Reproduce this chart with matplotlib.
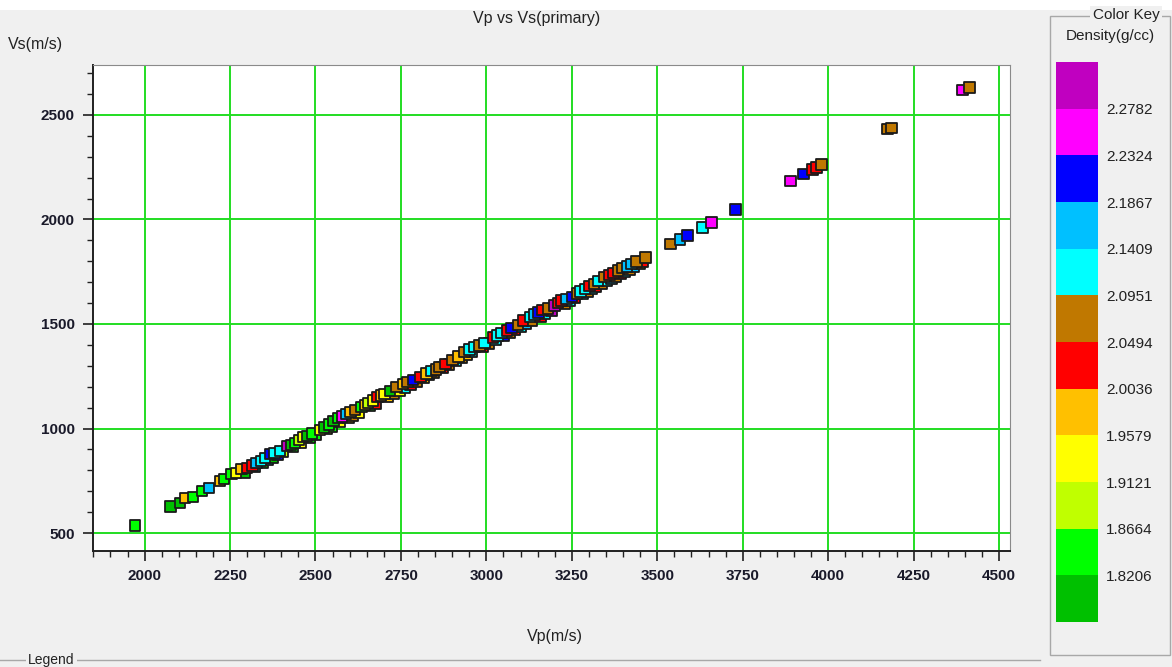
import numpy as np
import matplotlib
matplotlib.use("Agg")
import matplotlib.pyplot as plt
from matplotlib.colors import ListedColormap, BoundaryNorm
from matplotlib.patches import Rectangle
from matplotlib.lines import Line2D
from matplotlib.ticker import MultipleLocator

plt.rcParams['font.family'] = ['Liberation Sans', 'DejaVu Sans']

# density class colours, lowest class first
key_colors = ['#00C000', '#00FF00', '#C0FF00', '#FFFF00', '#FFC000', '#FF0000',
              '#C07800', '#00FFFF', '#00C0FF', '#0000FF', '#FF00FF', '#C000C0']
key_labels = ['1.8206', '1.8664', '1.9121', '1.9579', '2.0036', '2.0494',
              '2.0951', '2.1409', '2.1867', '2.2324', '2.2782']
key_bounds = [1.7748, 1.8206, 1.8664, 1.9121, 1.9579, 2.0036, 2.0494,
              2.0951, 2.1409, 2.1867, 2.2324, 2.2782, 2.3240]

# samples mostly hidden under the others in the dense band
vp_under = [2292, 2322, 2346, 2360, 2374, 2388, 2405, 2434, 2458, 2482,
            2502, 2532, 2546, 2572, 2596, 2608, 2625, 2660, 2676, 2710,
            2728, 2746, 2762, 2778, 2796, 2816, 2832, 2846, 2872, 2890,
            2910, 2928, 2943, 2958, 2988, 3008, 3026, 3052, 3067, 3084,
            3100, 3116, 3134, 3158, 3172, 3190, 3228, 3243, 3258, 3282,
            3295, 3309, 3320, 3336, 3353, 3366, 3379, 3392, 3405, 3418,
            3432, 3450, 3458]
vs_under = [790, 816, 837, 849, 861, 873, 887, 913, 933, 954,
            971, 997, 1009, 1032, 1052, 1063, 1077, 1108, 1121, 1151,
            1166, 1182, 1196, 1209, 1225, 1242, 1256, 1268, 1291, 1306,
            1323, 1339, 1352, 1365, 1391, 1408, 1423, 1446, 1459, 1473,
            1487, 1501, 1517, 1537, 1549, 1565, 1598, 1611, 1624, 1644,
            1656, 1668, 1677, 1691, 1706, 1717, 1728, 1740, 1751, 1762,
            1774, 1789, 1796]
density_under = [1.800, 2.120, 1.845, 2.165, 1.800, 2.210, 1.890, 1.845, 1.935, 1.800,
                 1.845, 1.980, 1.845, 1.935, 1.980, 2.070, 1.935, 1.845, 2.025, 1.980,
                 2.070, 1.935, 2.120, 2.025, 2.070, 1.980, 2.120, 2.070, 2.025, 2.070,
                 2.120, 2.070, 1.980, 2.120, 2.025, 2.070, 2.120, 2.210, 2.070, 2.025,
                 2.120, 2.165, 2.070, 2.025, 2.120, 2.300, 2.070, 2.120, 2.025, 2.165,
                 2.070, 2.120, 2.025, 2.070, 2.120, 2.165, 2.070, 2.025, 2.120, 2.070,
                 2.165, 2.070, 2.025]

# samples
vp = [1972, 2076, 2103, 2118, 2141, 2168, 2188, 2220, 2232, 2255,
      2267, 2284, 2299, 2315, 2328, 2340, 2352, 2367, 2380, 2396,
      2416, 2428, 2440, 2452, 2463, 2475, 2490, 2513, 2525, 2539,
      2552, 2566, 2578, 2589, 2602, 2615, 2635, 2645, 2653, 2668,
      2682, 2692, 2702, 2718, 2737, 2756, 2770, 2785, 2808, 2825,
      2840, 2852, 2863, 2880, 2901, 2918, 2936, 2950, 2966, 2980,
      2995, 3019, 3032, 3045, 3060, 3074, 3092, 3107, 3127, 3140,
      3152, 3165, 3180, 3200, 3210, 3220, 3235, 3250, 3265, 3275,
      3288, 3302, 3315, 3326, 3346, 3360, 3372, 3385, 3398, 3412,
      3425, 3440, 3466, 3539, 3566, 3589, 3633, 3659, 3729, 3890,
      3928, 3954, 3966, 3981, 4174, 4186, 4393, 4414]
vs = [535, 626, 643, 667, 672, 701, 715, 749, 758, 782,
      787, 806, 811, 822, 835, 845, 859, 878, 883, 893,
      917, 922, 931, 945, 959, 965, 975, 993, 1005, 1020,
      1035, 1050, 1058, 1069, 1078, 1088, 1103, 1112, 1122, 1135,
      1151, 1158, 1165, 1180, 1199, 1213, 1222, 1232, 1246, 1262,
      1275, 1283, 1294, 1308, 1328, 1345, 1366, 1378, 1390, 1398,
      1409, 1436, 1445, 1457, 1468, 1481, 1495, 1517, 1533, 1545,
      1555, 1567, 1575, 1588, 1600, 1613, 1620, 1629, 1645, 1655,
      1667, 1682, 1692, 1706, 1725, 1735, 1744, 1755, 1768, 1776,
      1787, 1798, 1818, 1883, 1905, 1922, 1962, 1986, 2048, 2184,
      2218, 2240, 2250, 2262, 2432, 2437, 2620, 2632]
density = [1.845, 1.800, 1.800, 1.980, 1.845, 1.845, 2.165, 1.980, 1.845, 1.845,
           1.935, 1.980, 2.025, 2.025, 2.165, 2.120, 2.120, 2.210, 2.120, 2.120,
           2.300, 1.800, 1.845, 1.890, 1.935, 1.800, 1.845, 1.935, 1.800, 1.845,
           1.800, 1.845, 2.255, 2.165, 1.980, 2.070, 1.845, 1.980, 1.890, 1.935,
           2.025, 1.980, 1.935, 1.800, 2.070, 1.980, 2.070, 2.210, 2.025, 1.980,
           2.120, 2.070, 2.070, 2.025, 2.070, 1.980, 2.070, 2.120, 2.120, 2.070,
           2.120, 2.025, 2.120, 2.120, 2.025, 2.210, 2.070, 2.025, 2.120, 2.165,
           2.210, 2.025, 2.070, 2.300, 2.025, 2.025, 2.165, 2.210, 2.070, 2.120,
           2.120, 2.025, 2.070, 2.120, 2.070, 2.025, 2.025, 2.070, 2.070, 2.165,
           2.165, 2.070, 2.070, 2.070, 2.165, 2.210, 2.120, 2.255, 2.210, 2.255,
           2.210, 2.025, 2.025, 2.070, 2.070, 2.070, 2.255, 2.070]

W, H = 1172, 667
fig = plt.figure(figsize=(W / 100, H / 100), dpi=100, facecolor='#F0F0F0')

def fx(px):
    return px / W

def fy(py):
    return 1 - py / H

# white strip on top of the window grab
fig.patches.append(Rectangle((0, fy(10)), 1, 10 / H, transform=fig.transFigure,
                             facecolor='white', edgecolor='none', zorder=0))

ax = fig.add_axes([fx(93), fy(551), fx(1010 - 93), (551 - 65) / H])
ax.set_facecolor('white')

cmap = ListedColormap(key_colors)
norm = BoundaryNorm(key_bounds, cmap.N)
ax.scatter(vp_under, vs_under, c=density_under, cmap=cmap, norm=norm, marker='s',
           s=58, edgecolors='#1A1A1A', linewidths=1.3, zorder=3)
ax.scatter(vp, vs, c=density, cmap=cmap, norm=norm, marker='s', s=58,
           edgecolors='#1A1A1A', linewidths=1.3, zorder=4)

ax.set_xlim(1849, 4532)
ax.set_ylim(414, 2739)
ax.xaxis.set_major_locator(MultipleLocator(250))
ax.xaxis.set_minor_locator(MultipleLocator(50))
ax.yaxis.set_major_locator(MultipleLocator(500))
ax.yaxis.set_minor_locator(MultipleLocator(100))
ax.grid(True, which='major', color='#22DD22', linewidth=1.4, zorder=1)
ax.set_axisbelow(True)
ax.tick_params(which='major', length=7, width=1.2, color='#202020', direction='out')
ax.tick_params(which='minor', length=4, width=1.0, color='#202020', direction='out')
ax.tick_params(labelsize=11, labelcolor='#1A1A2A', pad=6)
for lab in ax.get_xticklabels() + ax.get_yticklabels():
    lab.set_fontweight('bold')
for side in ['top', 'right']:
    ax.spines[side].set_color('#8A8A8A')
ax.spines['left'].set_color('#202020')
ax.spines['bottom'].set_color('#202020')
ax.spines['left'].set_linewidth(1.4)
ax.spines['bottom'].set_linewidth(1.4)

fig.text(fx(537), fy(18), 'Vp vs Vs(primary)', ha='center', va='center', fontsize=11.5, color='#222222')
fig.text(fx(8), fy(44), 'Vs(m/s)', ha='left', va='center', fontsize=11.5, color='#222222')
fig.text(fx(555), fy(636), 'Vp(m/s)', ha='center', va='center', fontsize=11.5, color='#222222')

# colour key panel
cax = fig.add_axes([fx(1056), fy(622), fx(42), (622 - 62) / H])
sm = matplotlib.cm.ScalarMappable(norm=norm, cmap=cmap)
cb = fig.colorbar(sm, cax=cax, ticks=key_bounds[1:-1])
cb.set_ticklabels(key_labels)
cb.outline.set_visible(False)
cax.minorticks_off()
cax.tick_params(length=0, labelsize=11, pad=6, labelcolor='#222222')

fig.patches.append(Rectangle((fx(1050), fy(655)), fx(120), (655 - 16) / H,
                             transform=fig.transFigure, facecolor='none',
                             edgecolor='#A8A8A8', linewidth=1.0, zorder=1))
fig.text(fx(1126), fy(15), 'Color Key', ha='center', va='center', fontsize=11,
         color='#222222', zorder=5,
         bbox=dict(facecolor='#F0F0F0', edgecolor='none', pad=1.5))
fig.text(fx(1110), fy(36), 'Density(g/cc)', ha='center', va='center', fontsize=11,
         color='#222222')

# legend group box peeking in at the bottom
fig.lines.append(Line2D([0, fx(1040)], [fy(660), fy(660)], transform=fig.transFigure,
                        color='#A8A8A8', linewidth=1.0))
fig.text(fx(28), fy(660), 'Legend', ha='left', va='center', fontsize=10,
         color='#222222', zorder=5,
         bbox=dict(facecolor='#F0F0F0', edgecolor='none', pad=1.5))

fig.savefig('out.png', dpi=100, facecolor=fig.get_facecolor())
